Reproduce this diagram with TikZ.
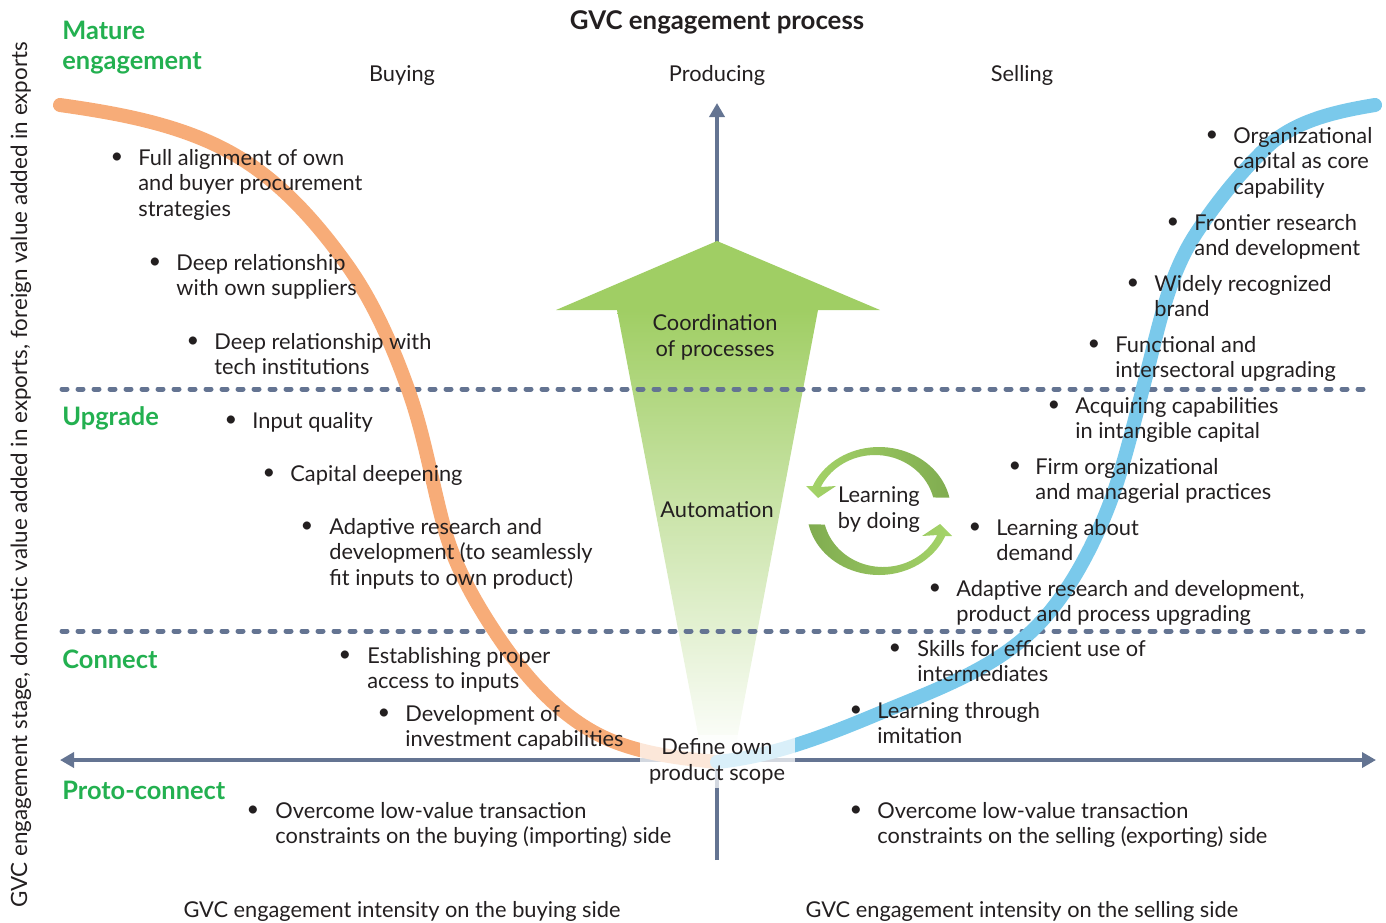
\documentclass[tikz,border=0pt]{standalone}
\usepackage{fontspec}
\setmainfont{Lato}
\usetikzlibrary{arrows.meta}
\definecolor{axiscol}{RGB}{100,116,146}
\definecolor{orangec}{RGB}{247,172,120}
\definecolor{bluec}{RGB}{122,201,235}
\definecolor{stagegreen}{RGB}{35,176,80}
\definecolor{agreen}{RGB}{160,206,100}
\definecolor{dgn}{RGB}{128,172,80}
\definecolor{lgn}{RGB}{165,212,105}
\definecolor{textcol}{RGB}{35,31,32}
\tikzset{axtip/.tip={Triangle[length=7pt,width=7.5pt]}}
\begin{document}
\begin{tikzpicture}[x=0.5pt,y=-0.5pt,
  txt/.style={font=\fontsize{10.9}{12.8}\selectfont, text=textcol, inner sep=0pt},
  itm/.style={txt, anchor=north west, align=left, yshift=-0.8pt},
  bul/.style={txt, anchor=center, yshift=-0.8pt},
  ctr/.style={txt, align=center, anchor=center, yshift=-0.8pt},
  stage/.style={font=\fontsize{12.7}{15}\selectfont\bfseries, text=stagegreen, inner sep=0pt, anchor=north west, align=left},
  axisline/.style={draw=axiscol, line width=1.8pt},
  dashline/.style={draw=axiscol, line width=2.5pt, line cap=round, dash pattern=on 2.5pt off 5.5pt},
  curve/.style={line width=7pt, line cap=round}
]
\useasboundingbox (0,0) rectangle (1386,922);
% coordinates of axes
\coordinate (xl) at (60,760);
\coordinate (xr) at (1376,760);
\coordinate (yb) at (717,860);
\coordinate (yt) at (717,103);
\coordinate (d1l) at (62,389);
\coordinate (d1r) at (1373,389);
\coordinate (d2l) at (62,631);
\coordinate (d2r) at (1373,631);
% vertical axis (behind arrow)
\draw[axisline, -{axtip}] (yb) -- (yt);
% green arrow
\shade[top color=agreen, middle color=agreen!78!white, bottom color=white] (617,310) -- (818,310) -- (733,760) -- (703,760) -- cycle;
\fill[agreen] (556,310) -- (717,241) -- (880,310) -- cycle;
% dashed separators
\draw[dashline] (d1l) -- (d1r);
\draw[dashline] (d2l) -- (d2r);
% horizontal axis
\draw[axisline, {axtip}-{axtip}] (xl) -- (xr);
% curves
\draw[curve, orangec] (60,105) .. controls (121.9,113.8) and (186.7,125.4) .. (240,158)
  .. controls (282.1,183.7) and (316.1,222.1) .. (345,262)
  .. controls (372.8,300.3) and (392,344.5) .. (408,389)
  .. controls (424.1,433.7) and (431.6,481.1) .. (444,527)
  .. controls (454.1,564.6) and (473.6,599.5) .. (495,632)
  .. controls (523.9,675.9) and (561.5,719.6) .. (610,740)
  .. controls (643.6,754.1) and (681,758.4) .. (717,762);
\draw[curve, bluec] (717,762) .. controls (773.4,756.4) and (827.7,734.8) .. (880,713)
  .. controls (934.4,690.3) and (993.4,669.6) .. (1035,628)
  .. controls (1063.3,599.7) and (1083.6,563.5) .. (1100,527)
  .. controls (1121,480.3) and (1132.1,429.6) .. (1145,380)
  .. controls (1157.9,330.5) and (1167.4,277.9) .. (1195,235)
  .. controls (1215.5,203.2) and (1239.7,173.2) .. (1267,147)
  .. controls (1294.8,120.4) and (1336.9,111.3) .. (1375,105);
% fade box in the centre
\fill[white, opacity=0.72] (640,735) rectangle (795,788);
% learning by doing arrows
\shade[left color=lgn, right color=dgn] plot[domain=-12:-157, samples=40] ({879+72*cos(\x)},{511+64*sin(\x)}) -- (806,486) -- (818,498) -- (836,486) -- plot[domain=-154.6:-14, samples=40] ({875+60*cos(\x)},{511+56*sin(\x)}) -- cycle;
\shade[left color=dgn, right color=lgn] plot[domain=168:23, samples=40] ({879+72*cos(\x)},{511+64*sin(\x)}) -- (952,536) -- (940,524) -- (922,536) -- plot[domain=25.4:166, samples=40] ({883+60*cos(\x)},{511+56*sin(\x)}) -- cycle;
% title and headers
\node[font=\fontsize{12.9}{15}\selectfont\bfseries, text=textcol, inner sep=0pt] (title) at (717,22) {GVC engagement process};
\node[ctr] (hbuy) at (402,74) {Buying};
\node[ctr] (hprod) at (717,74) {Producing};
\node[ctr] (hsell) at (1022,74) {Selling};
\node[ctr] (fbuy) at (402,910) {GVC engagement intensity on the buying side};
\node[ctr] (fsell) at (1022,910) {GVC engagement intensity on the selling side};
\node[txt, font=\fontsize{11.2}{13}\selectfont, rotate=90] (ylab) at (21,475) {GVC engagement stage, domestic value added in exports, foreign value added in exports};
% stages
\node[stage] (smat) at (62,21) {Mature\\engagement};
\node[stage] (supg) at (62,406) {Upgrade};
\node[stage] (scon) at (62,650) {Connect};
\node[stage] (spro) at (62,781) {Proto-connect};
% centre texts
\node[ctr] (coord) at (715,336) {Coordination\\of processes};
\node[ctr] (auto) at (717,508) {Automation};
\node[ctr] (lbd) at (879,508) {Learning\\by doing};
\node[ctr] (define) at (717,760) {Define own\\product scope};
% left items
\node[bul] (bl1) at (117,157) {•};
\node[itm] (tl1) at (138,147) {Full alignment of own\\and buyer procurement\\strategies};
\node[bul] (bl2) at (155,262) {•};
\node[itm] (tl2) at (176,252) {Deep relationship\\with own suppliers};
\node[bul] (bl3) at (193,341) {•};
\node[itm] (tl3) at (214,331) {Deep relationship with\\tech institutions};
\node[bul] (bl4) at (231,420) {•};
\node[itm] (tl4) at (252,410) {Input quality};
\node[bul] (bl5) at (269,473) {•};
\node[itm] (tl5) at (290,463) {Capital deepening};
\node[bul] (bl6) at (307,526) {•};
\node[itm] (tl6) at (329,516) {Adaptive research and\\development (to seamlessly\\fit inputs to own product)};
\node[bul] (bl7) at (345,655) {•};
\node[itm] (tl7) at (367,645) {Establishing proper\\access to inputs};
\node[bul] (bl8) at (384,713) {•};
\node[itm] (tl8) at (405,703) {Development of\\investment capabilities};
\node[bul] (bl9) at (253,810) {•};
\node[itm] (tl9) at (275,800) {Overcome low-value transaction\\constraints on the buying (importing) side};
% right items
\node[bul] (br1) at (1212,135) {•};
\node[itm] (tr1) at (1233,125) {Organizational\\capital as core\\capability};
\node[bul] (br2) at (1173,222) {•};
\node[itm] (tr2) at (1194,212) {Frontier research\\and development};
\node[bul] (br3) at (1133,283) {•};
\node[itm] (tr3) at (1154,273) {Widely recognized\\brand};
\node[bul] (br4) at (1094,344) {•};
\node[itm] (tr4) at (1115,334) {Functional and\\intersectoral upgrading};
\node[bul] (br5) at (1054,405) {•};
\node[itm] (tr5) at (1075,395) {Acquiring capabilities\\in intangible capital};
\node[bul] (br6) at (1015,466) {•};
\node[itm] (tr6) at (1035,456) {Firm organizational\\and managerial practices};
\node[bul] (br7) at (975,527) {•};
\node[itm] (tr7) at (996,517) {Learning about\\demand};
\node[bul] (br8) at (935,588) {•};
\node[itm] (tr8) at (956,578) {Adaptive research and development,\\product and process upgrading};
\node[bul] (br9) at (895,648) {•};
\node[itm] (tr9) at (917,638) {Skills for efficient use of\\intermediates};
\node[bul] (br10) at (856,710) {•};
\node[itm] (tr10) at (877,700) {Learning through\\imitation};
\node[bul] (br11) at (856,810) {•};
\node[itm] (tr11) at (877,800) {Overcome low-value transaction\\constraints on the selling (exporting) side};
\end{tikzpicture}
\end{document}
